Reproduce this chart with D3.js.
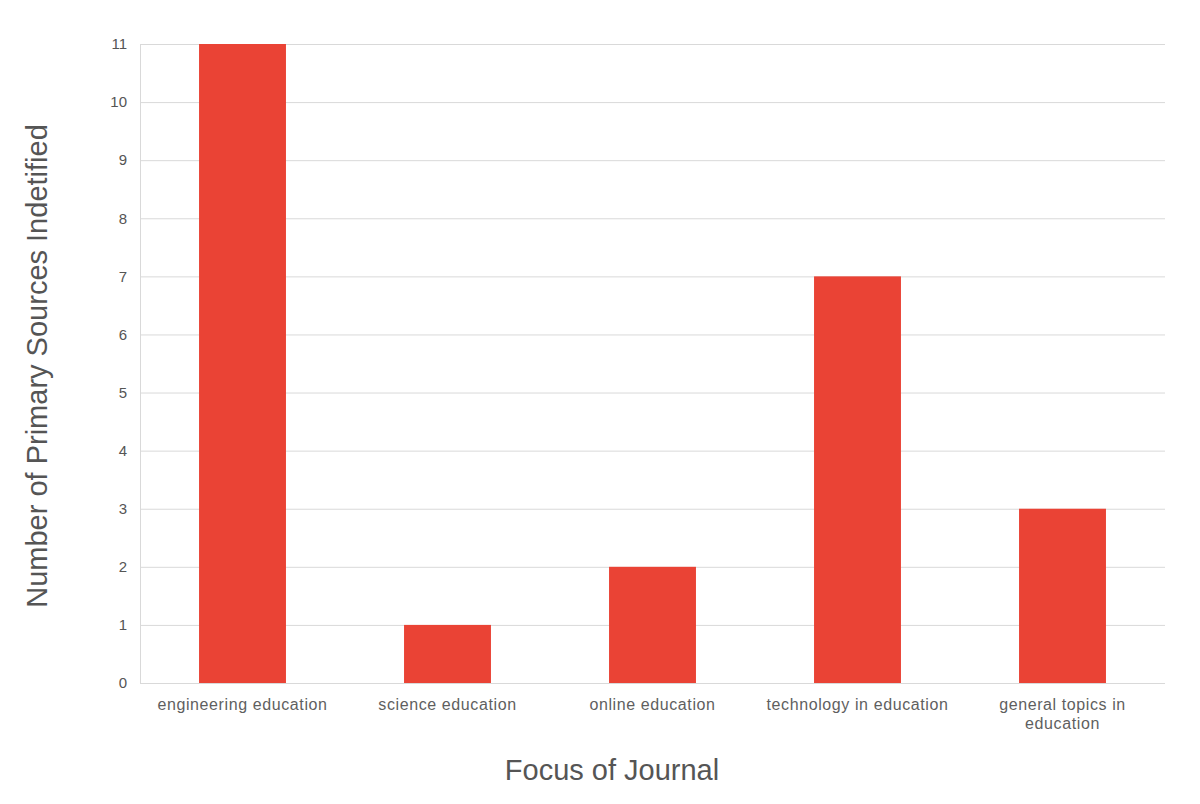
<!DOCTYPE html>
<html lang="en">
<head>
  <meta charset="UTF-8">
  <title>Focus of Journal</title>
  <script src="https://d3js.org/d3.v7.min.js"></script>
  <style>
    body { margin: 0; background: #fff; }
    text { font-family: "Liberation Sans", Arial, sans-serif; fill: #555; }
  </style>
</head>
<body>
  <svg id="chart" width="1200" height="804"></svg>
  <script>
    // Data
    const categories = [
      "engineering education",
      "science education",
      "online education",
      "technology in education",
      "general topics in education"
    ];
    const values = [11, 1, 2, 7, 3];
    const yTicks = [0, 1, 2, 3, 4, 5, 6, 7, 8, 9, 10, 11];

    const width = 1200, height = 804;
    const margin = { top: 44, right: 35, bottom: 121, left: 140 };

    const svg = d3.select("#chart");

    const x = d3.scaleBand()
      .domain(categories)
      .range([margin.left, width - margin.right])
      .paddingInner(0.576)
      .paddingOuter(0.288);

    const y = d3.scaleLinear()
      .domain([0, 11])
      .range([height - margin.bottom, margin.top]);

    // Gridlines
    svg.append("g")
      .selectAll("line")
      .data(yTicks)
      .join("line")
        .attr("x1", margin.left)
        .attr("x2", width - margin.right)
        .attr("y1", d => y(d) + 0.5)
        .attr("y2", d => y(d) + 0.5)
        .attr("stroke", "#d9d9d9")
        .attr("stroke-width", 1);

    // Left axis line
    svg.append("line")
      .attr("x1", margin.left + 0.5)
      .attr("x2", margin.left + 0.5)
      .attr("y1", y(11))
      .attr("y2", y(0))
      .attr("stroke", "#d9d9d9");

    // Y tick labels
    svg.append("g")
      .selectAll("text")
      .data(yTicks)
      .join("text")
        .attr("x", margin.left - 13)
        .attr("y", d => y(d))
        .attr("dy", "0.35em")
        .attr("text-anchor", "end")
        .style("font-size", "15px")
        .text(d => d);

    // Bars
    svg.append("g")
      .selectAll("rect")
      .data(values)
      .join("rect")
        .attr("x", (d, i) => x(categories[i]))
        .attr("y", d => y(d))
        .attr("width", x.bandwidth())
        .attr("height", d => y(0) - y(d))
        .attr("fill", "#ea4335");

    // Category labels (wrapped like the original)
    const wrapped = {
      "general topics in education": ["general topics in", "education"]
    };
    svg.append("g")
      .selectAll("text")
      .data(categories)
      .join("text")
        .attr("x", d => x(d) + x.bandwidth() / 2)
        .attr("y", height - margin.bottom + 27)
        .attr("text-anchor", "middle")
        .style("font-size", "16px")
        .style("letter-spacing", "0.6px")
        .style("fill", "#5f5f5f")
        .each(function(d) {
          const lines = wrapped[d] || [d];
          d3.select(this).selectAll("tspan")
            .data(lines)
            .join("tspan")
              .attr("x", x(d) + x.bandwidth() / 2)
              .attr("dy", (l, i) => i ? 19 : 0)
              .text(l => l);
        });

    // Axis titles
    svg.append("text")
      .attr("x", 612)
      .attr("y", 780)
      .attr("text-anchor", "middle")
      .style("font-size", "29px")
      .text("Focus of Journal");

    svg.append("text")
      .attr("transform", `translate(47, 366) rotate(-90)`)
      .attr("text-anchor", "middle")
      .style("font-size", "29px")
      .text("Number of Primary Sources Indetified");
  </script>
</body>
</html>
